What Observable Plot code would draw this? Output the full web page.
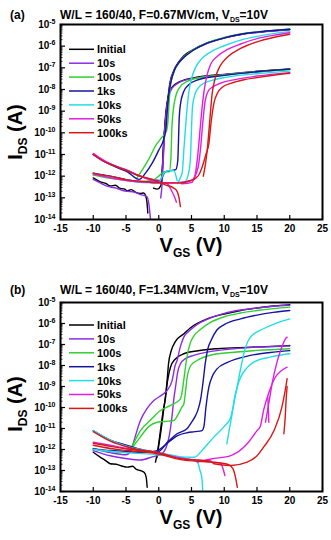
<!DOCTYPE html>
<html><head><meta charset="utf-8">
<script src="https://cdn.jsdelivr.net/npm/d3@7"></script>
<script src="https://cdn.jsdelivr.net/npm/@observablehq/plot@0.6"></script>
<style>
body{margin:0;background:#fff;}
#wrap{width:331px;}
svg{display:block;}
</style></head><body><div id="wrap"></div>
<script>
const seriesNames = ["Initial","10s","100s","1ks","10ks","50ks","100ks"];
const seriesColors = ["#000000","#8b2be8","#2ed12e","#1414a0","#22dde6","#e01ee0","#d81818"];
const xTicks = [-15,-10,-5,0,5,10,15,20,25];
const yExponents = [-14,-13,-12,-11,-10,-9,-8,-7,-6,-5];
const titleA = ["(a)", "W/L = 160/40, F=0.67MV/cm, V", "DS", "=10V"];
const titleB = ["(b)", "W/L = 160/40, F=1.34MV/cm, V", "DS", "=10V"];

// Each series: list of segments, points are [V_GS (V), log10 I_DS (A)]
const A_Initial = [
 [[-1.2,-12.3],[0.3,-12.3],[0.55,-11.6],[0.75,-10.4],[1.0,-9.5],[1.25,-8.8],[1.7,-7.7],[2.3,-7.12],[3.0,-6.75],[3.8,-6.45],[5.0,-6.2],[7.4,-5.85],[10,-5.62],[12.5,-5.46],[15,-5.36],[17.5,-5.29],[20,-5.23]],
 [[-10,-12.08],[-9,-12.25],[-8,-12.35],[-7.4,-12.45],[-6.6,-12.42],[-6,-12.55],[-5.2,-12.6],[-4.8,-12.68],[-4.2,-12.62],[-3.5,-12.75],[-2.8,-12.8],[-2.3,-12.78],[-2.0,-12.9],[-1.8,-13.2],[-1.67,-13.7]],
 [[-0.8,-12.55],[-0.2,-12.6],[0.3,-12.45],[0.5,-12.0],[0.7,-10.8],[0.9,-9.8],[1.1,-9.0],[1.4,-8.4],[1.9,-7.95],[2.8,-7.7],[4,-7.55],[6,-7.42],[10,-7.3],[15,-7.16],[20,-7.05]]
];
const A_10s = [
 [[-10,-11.0],[-8.5,-11.3],[-7.4,-11.45],[-6,-11.62],[-4.8,-11.75],[-3.3,-11.95],[-1,-12.15],[0.3,-12.2],[0.6,-11.5],[0.8,-10.4],[1.05,-9.5],[1.3,-8.8],[1.75,-7.7],[2.4,-7.1],[3.2,-6.7],[4,-6.45],[5.2,-6.2],[7.4,-5.87],[10,-5.63],[12.5,-5.47],[15,-5.37],[17.5,-5.3],[20,-5.24]],
 [[-10,-12.15],[-9,-12.3],[-8,-12.45],[-7.4,-12.5],[-6.5,-12.55],[-5.5,-12.66],[-4.8,-12.7],[-4,-12.72],[-2.8,-12.85],[-1.8,-12.95],[-1.5,-13.3],[-1.26,-14.0]],
 [[0.3,-13.0],[0.5,-12.4],[0.7,-11.2],[0.9,-10.0],[1.15,-9.0],[1.5,-8.35],[2.0,-7.95],[3,-7.7],[4,-7.57],[6,-7.45],[10,-7.32],[15,-7.18],[20,-7.07]]
];
const A_100s = [
 [[-3.4,-12.12],[-2.5,-11.7],[-1.5,-11.2],[-0.5,-10.6],[0.5,-10.2],[1.2,-9.9],[1.45,-9.3],[1.6,-8.5],[1.8,-7.8],[2.3,-7.2],[3,-6.8],[4,-6.45],[5.2,-6.18],[7.4,-5.84],[10,-5.6],[12.5,-5.44],[15,-5.34],[17.5,-5.27],[20,-5.21]],
 [[-10,-11.95],[-7.4,-12.1],[-4.8,-12.2],[-3.0,-12.25],[-1,-12.2],[0,-12.0],[0.8,-11.8],[1.6,-11.8],[1.85,-11.2],[2.0,-9.8],[2.2,-9.0],[2.6,-8.3],[3.2,-7.9],[4.5,-7.6],[6,-7.47],[10,-7.33],[15,-7.19],[20,-7.08]]
];
const A_1ks = [
 [[-10,-11.0],[-8.5,-11.28],[-7.4,-11.45],[-6,-11.65],[-4.8,-11.8],[-3.0,-12.15],[-2,-11.85],[-1.0,-11.4],[0,-10.8],[0.8,-10.25],[1.1,-9.8],[1.3,-9.0],[1.5,-8.3],[1.9,-7.6],[2.4,-7.1],[3.2,-6.72],[4,-6.48],[5.2,-6.2],[7.4,-5.86],[10,-5.62],[12.5,-5.45],[15,-5.35],[17.5,-5.28],[20,-5.22]],
 [[-10,-11.86],[-7.4,-12.0],[-4.8,-12.17],[-2,-12.27],[0,-12.3],[1.0,-11.8],[1.6,-11.75],[2.6,-11.7],[2.9,-11.3],[3.0,-10.5],[3.1,-9.5],[3.3,-8.7],[3.8,-8.1],[4.5,-7.8],[6,-7.55],[10,-7.35],[15,-7.18],[20,-7.06]]
];
const A_10ks = [
 [[-10,-11.9],[-7.4,-12.05],[-4.8,-12.2],[-2,-12.3],[0,-12.28],[0.8,-11.85],[1.5,-11.75],[2.3,-11.75],[2.8,-12.2]],
 [[2.9,-12.3],[3.4,-12.0],[3.6,-11.8],[3.83,-10.8],[4.2,-9.3],[4.6,-8.1],[5.0,-7.5],[5.6,-7.0],[6.5,-6.6],[8,-6.25],[10,-5.98],[12.5,-5.72],[15,-5.55],[17.5,-5.42],[20,-5.33]],
 [[3.0,-12.3],[4.0,-12.25],[4.6,-11.8],[4.85,-11.1],[5.0,-9.8],[5.15,-8.8],[5.5,-8.25],[6.1,-7.9],[7,-7.7],[8.5,-7.55],[10,-7.45],[15,-7.27],[20,-7.15]]
];
const A_50ks = [
 [[-10,-10.95],[-8.5,-11.25],[-7.4,-11.42],[-6,-11.6],[-4.8,-11.72],[-3,-11.98],[-1,-12.2],[0.5,-12.3],[1.3,-12.35],[2.0,-12.7],[2.4,-12.95],[2.7,-13.2]],
 [[3.5,-12.35],[5.0,-12.3],[5.5,-12.0],[5.9,-11.2],[6.12,-10.5],[6.5,-9.2],[6.9,-8.1],[7.4,-7.3],[7.9,-6.85],[9,-6.45],[10.5,-6.15],[12.5,-5.9],[15,-5.65],[17.5,-5.5],[20,-5.38]],
 [[-10,-11.9],[-5,-12.2],[0,-12.3],[3,-12.3],[5,-12.2],[6.0,-11.6],[6.4,-10.66],[6.7,-9.6],[7.1,-8.5],[7.6,-8.05],[8.15,-7.9],[9.5,-7.7],[11,-7.58],[15,-7.38],[20,-7.22]]
];
const A_100ks = [
 [[-10,-11.86],[-8.5,-11.95],[-7.4,-12.0],[-4.8,-12.17],[-2,-12.25],[-0.2,-12.3],[1.5,-12.32],[2.8,-12.32],[4.0,-12.28],[4.85,-12.2],[5.6,-12.1],[6.2,-11.9],[6.6,-11.6],[7.2,-11.0],[7.65,-10.5],[8.0,-9.5],[8.4,-8.66],[9.0,-8.15],[9.7,-7.9],[11,-7.72],[13,-7.55],[15,-7.45],[17.5,-7.34],[20,-7.25]],
 [[-10,-11.0],[-8.5,-11.3],[-7.4,-11.45],[-6,-11.62],[-4.8,-11.75],[-3,-11.98],[-1,-12.15],[1,-12.4],[2.3,-12.55],[2.8,-12.7],[3.1,-13.0],[3.3,-13.4]],
 [[6.8,-12.0],[7.1,-11.5],[7.4,-10.8],[7.8,-9.4],[8.15,-8.2],[8.6,-7.5],[9.3,-6.95],[10.5,-6.5],[12.5,-6.1],[15,-5.8],[17.5,-5.6],[20,-5.45]]
];

const B_Initial = [
 [[-10,-12.13],[-9,-12.35],[-8,-12.55],[-7.4,-12.68],[-6.5,-12.7],[-5.5,-12.8],[-4.8,-12.84],[-4,-12.8],[-3.4,-12.95],[-2.8,-13.0],[-2.2,-13.1],[-1.9,-13.35],[-1.77,-13.8]],
 [[-0.5,-12.6],[-0.24,-12.2],[0.3,-11.0],[0.7,-10.1],[1.0,-9.6],[1.28,-8.7],[1.5,-7.9],[1.9,-7.3],[2.56,-6.85],[3.8,-6.5],[4.85,-6.2],[7.4,-5.78],[10,-5.55],[12.5,-5.38],[15,-5.26],[17.5,-5.17],[20,-5.1]],
 [[-0.3,-12.4],[0.3,-11.2],[0.8,-10.0],[1.1,-9.3],[1.28,-8.87],[1.79,-8.08],[2.5,-7.7],[3.83,-7.44],[6,-7.3],[8.9,-7.2],[14,-7.13],[20,-7.05]]
];
const B_10s = [
 [[-10,-11.95],[-7.4,-12.15],[-5,-12.25],[-4.3,-12.1],[-3.8,-11.6],[-2.8,-10.62],[-1.8,-10.05],[-0.75,-9.67],[0.5,-9.4],[1.28,-9.19],[2.05,-8.71],[2.5,-8.0],[2.8,-7.76],[3.3,-7.1],[3.83,-6.65],[4.85,-6.3],[6.37,-5.95],[7.4,-5.8],[10,-5.52],[12.5,-5.36],[15,-5.26],[17.5,-5.18],[20,-5.13]],
 [[-10,-12.05],[-7.4,-12.3],[-4.8,-12.44],[-2.8,-12.5],[-1,-12.35],[0.5,-12.2],[1.5,-11.5],[2.0,-10.5],[2.3,-9.6],[2.56,-9.03],[2.9,-8.3],[3.32,-7.92],[4.2,-7.65],[5.35,-7.52],[8,-7.33],[11.5,-7.2],[15,-7.13],[20,-7.07]]
];
const B_100s = [
 [[-10,-11.97],[-7.4,-12.1],[-5,-12.15],[-4.3,-11.97],[-3.5,-11.5],[-2.8,-11.1],[-1.26,-10.6],[0.27,-10.14],[1.79,-9.9],[3.3,-9.6],[3.6,-9.2],[3.9,-8.5],[4.3,-7.6],[4.85,-6.9],[5.35,-6.6],[6.5,-6.25],[7.9,-5.95],[10,-5.68],[12.5,-5.5],[15,-5.38],[17.5,-5.29],[20,-5.22]],
 [[-4,-11.9],[-2.8,-11.4],[-1.5,-10.9],[-0.24,-10.7],[1.5,-10.65],[2.3,-10.62],[3.0,-10.3],[3.5,-10.0],[3.83,-9.83],[4.1,-9.2],[4.34,-8.56],[4.9,-8.0],[5.86,-7.76],[8,-7.5],[11.5,-7.37],[15,-7.28],[20,-7.2]]
];
const B_1ks = [
 [[-10,-11.1],[-7.4,-11.55],[-4.8,-11.8],[-3.3,-11.95],[-1,-12.1],[-0.24,-12.13],[1.5,-11.6],[2.8,-11.25],[4.34,-11.0],[4.85,-10.78],[5.6,-10.4],[6.0,-10.1],[6.4,-9.6],[6.8,-8.7],[7.1,-7.9],[7.5,-7.2],[8.0,-6.8],[8.9,-6.3],[10,-6.05],[12.5,-5.78],[15,-5.6],[17.5,-5.47],[20,-5.38]],
 [[-10,-11.97],[-7.4,-12.05],[-4.8,-12.1],[-2,-12.13],[-0.24,-12.05],[1.5,-11.65],[2.8,-11.35],[4.34,-11.2],[5.5,-11.15],[6.6,-11.1],[6.9,-10.9],[7.2,-10.0],[7.65,-9.03],[8.2,-8.5],[8.9,-8.16],[10.5,-7.85],[14,-7.52],[17,-7.38],[20,-7.29]]
];
const B_10ks = [
 [[-10,-11.1],[-7.4,-11.55],[-4.8,-11.85],[-2,-12.05],[0,-12.15],[2.5,-12.3],[4.5,-12.45],[5.9,-12.6],[6.3,-13.0],[6.6,-13.4],[6.7,-13.95]],
 [[-10,-12.0],[-5,-12.15],[0,-12.25],[3,-12.35],[5.4,-12.37],[7,-11.9],[8.4,-11.41],[10.0,-10.9],[10.95,-10.5],[11.6,-9.6],[12.1,-8.8],[12.6,-8.0],[13.1,-7.3],[14,-6.65],[16,-6.25],[18,-5.98],[20,-5.78]],
 [[10.4,-11.73],[10.8,-11.0],[11.2,-10.3],[11.5,-9.67],[12.0,-9.0],[12.5,-8.56],[13.5,-8.1],[14.5,-7.84],[17,-7.6],[20,-7.44]]
];
const B_50ks = [
 [[-10,-11.65],[-7.4,-11.8],[-4.8,-11.95],[-0.24,-12.15],[3.3,-12.4],[7,-12.55],[9.4,-12.65],[9.8,-12.9],[10.1,-13.24]],
 [[5.9,-12.6],[8,-12.45],[11,-12.29],[13.5,-11.73],[15.0,-11.1],[15.5,-10.9],[16.0,-10.14],[16.8,-9.3],[17.8,-8.56],[18.7,-8.25],[19.6,-8.08]],
 [[16.3,-10.7],[16.8,-9.8],[17.3,-8.87],[18.0,-7.9],[18.6,-7.29],[19.35,-6.73],[19.6,-6.65]],
 [[16.65,-9.5],[16.75,-10.2],[16.8,-10.7]]
];
const B_100ks = [
 [[-10,-11.7],[-7.4,-11.85],[-4.8,-11.98],[-0.24,-12.13],[3.32,-12.44],[7.9,-12.55],[8.4,-12.68],[11,-12.76],[13.5,-12.6],[15,-12.3],[16.0,-11.89],[17.6,-11.1],[18.8,-9.98],[19.3,-9.2],[19.6,-8.63]],
 [[-10,-11.8],[-7.4,-11.95],[-4.8,-12.05],[-0.24,-12.2],[3.32,-12.48],[7.9,-12.6],[10.5,-12.7],[11.3,-12.9],[11.7,-13.3],[12.0,-13.8]],
 [[19.1,-11.25],[19.3,-10.5],[19.45,-9.6],[19.6,-9.0]],
 [[-10,-11.15],[-7.4,-11.6],[-4.8,-11.88],[-2,-12.08],[0,-12.15]]
];

const panelAData = [A_Initial, A_10s, A_100s, A_1ks, A_10ks, A_50ks, A_100ks];
const panelBData = [B_Initial, B_10s, B_100s, B_1ks, B_10ks, B_50ks, B_100ks];

function toRows(panelData) {
  const rows = [];
  panelData.forEach((segs, i) => segs.forEach((seg, j) => seg.forEach(([v, l]) =>
    rows.push({series: seriesNames[i], key: seriesNames[i] + "-" + j, V: v, I: Math.pow(10, l)}))));
  return rows;
}

const FONT = "'Liberation Sans', Arial, sans-serif";
const ML = 60, MR = 9, W = 331;

function makePanel(panelData, title, cfg) {
  const {height, marginTop, marginBottom, legendY, yLabelY, xLabelY, titleY} = cfg;
  const fw = W - ML - MR, fh = height - marginTop - marginBottom;
  const decades = yExponents.map(e => Math.pow(10, e));
  const minors = [];
  yExponents.slice(0, -1).forEach(e => { for (let k = 2; k <= 9; k++) minors.push(k * Math.pow(10, e)); });
  const svg = Plot.plot({
    width: W, height, marginTop, marginBottom, marginLeft: ML, marginRight: MR,
    style: {fontFamily: FONT, fontSize: "10px", fontWeight: "bold", color: "#000", background: "#fff", overflow: "visible"},
    x: {domain: [-15, 25]},
    y: {type: "log", domain: [1e-14, 1e-5]},
    color: {domain: seriesNames, range: seriesColors},
    marks: [
      Plot.line(toRows(panelData), {x: "V", y: "I", z: "key", stroke: "series", strokeWidth: 1.4, clip: true, curve: "monotone-x"}),
      Plot.tickY(decades, {y: d => d, insetRight: fw - 5, stroke: "#000", strokeWidth: 1.2}),
      Plot.tickY(minors, {y: d => d, insetRight: fw - 2.5, stroke: "#000", strokeWidth: 0.8}),
      Plot.tickX(xTicks, {x: d => d, insetTop: fh - 4, stroke: "#000", strokeWidth: 1.2}),
      Plot.axisX({ticks: xTicks, tickSize: 0, tickPadding: 5, label: null, tickFormat: d => String(d)}),
      Plot.axisY({ticks: decades, tickSize: 0, tickPadding: 5, label: null, tickFormat: d => String(Math.round(Math.log10(d)))}),
      Plot.frame({stroke: "#000", strokeWidth: 2})
    ]
  });
  const s = d3.select(svg);
  // superscript y tick labels
  s.selectAll('g[aria-label="y-axis tick label"] text').each(function() {
    const e = this.textContent;
    const t = d3.select(this);
    t.text(null);
    t.append("tspan").text("10");
    t.append("tspan").attr("dy", "-4").attr("font-size", "7").text(e);
  });
  const g = s.append("g").attr("font-family", FONT).attr("fill", "#000").attr("text-anchor", "start");
  // title
  g.append("text").attr("x", 10).attr("y", titleY).attr("font-size", 12).attr("font-weight", "bold").text(title[0]);
  const tt = g.append("text").attr("x", 60).attr("y", titleY).attr("font-size", 12).attr("font-weight", "bold");
  tt.append("tspan").text(title[1]);
  tt.append("tspan").attr("dy", 3).attr("font-size", 7).text(title[2]);
  tt.append("tspan").attr("dy", -3).text(title[3]);
  // y label
  const yl = g.append("text").attr("transform", `translate(22,${yLabelY}) rotate(-90)`).attr("text-anchor", "middle")
    .attr("font-size", 20).attr("font-weight", "bold");
  yl.append("tspan").text("I");
  yl.append("tspan").attr("dy", 5).attr("font-size", 12).text("DS");
  yl.append("tspan").attr("dy", -5).text(" (A)");
  // x label
  const xl = g.append("text").attr("x", ML + fw / 2).attr("y", xLabelY).attr("text-anchor", "middle")
    .attr("font-size", 20).attr("font-weight", "bold");
  xl.append("tspan").text("V");
  xl.append("tspan").attr("dy", 5).attr("font-size", 12).text("GS");
  xl.append("tspan").attr("dy", -5).text(" (V)");
  // legend
  seriesNames.forEach((name, i) => {
    const y = legendY + i * 13.9;
    g.append("line").attr("x1", 69).attr("x2", 94).attr("y1", y).attr("y2", y)
      .attr("stroke", seriesColors[i]).attr("stroke-width", 1.5);
    g.append("text").attr("x", 97).attr("y", y).attr("dy", "0.36em").attr("font-size", 11)
      .attr("font-weight", "bold").text(name);
  });
  return svg;
}

const wrap = document.getElementById("wrap");
wrap.appendChild(makePanel(panelAData, titleA, {height: 265, marginTop: 24, marginBottom: 46, legendY: 49.3, yLabelY: 132, xLabelY: 252, titleY: 19}));
wrap.appendChild(makePanel(panelBData, titleB, {height: 275, marginTop: 37, marginBottom: 49, legendY: 60, yLabelY: 139, xLabelY: 259, titleY: 29}));
</script>
</body></html>
